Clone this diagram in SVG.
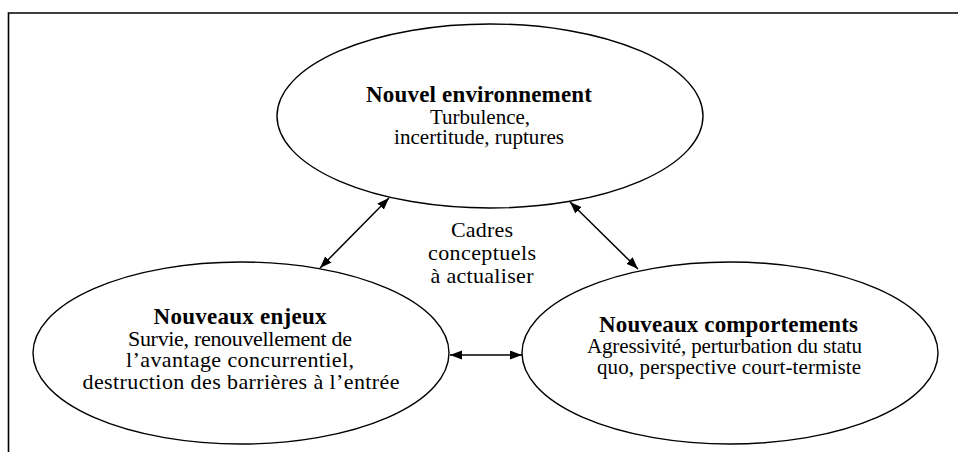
<svg xmlns="http://www.w3.org/2000/svg" width="958" height="452" viewBox="0 0 958 452">
<style>
  .frame{fill:none;stroke:#000;stroke-width:1.6}
  .node ellipse{fill:#fff;stroke:#000;stroke-width:1.4}
  text{font-family:"Liberation Serif","Times New Roman",serif;fill:#000;text-anchor:middle}
  .b{font-weight:bold;font-size:23px}
  .r{font-size:21px}
  .m{font-size:22px}
  .conn line{stroke:#000;stroke-width:1.5;marker-start:url(#ah);marker-end:url(#ah)}
</style>
<defs>
  <marker id="ah" markerUnits="userSpaceOnUse" markerWidth="13" markerHeight="10" refX="12" refY="4.5" orient="auto-start-reverse">
    <path d="M0,0 L12,4.5 L0,9 z" fill="#000"/>
  </marker>
</defs>
<rect width="958" height="452" fill="#fff"/>
<path class="frame" d="M8.5,452 L8.5,13 L958,13"/>
<g id="node-environnement" class="node">
  <ellipse cx="490" cy="116" rx="213" ry="92"/>
  <text class="b" x="479" y="102" textLength="226">Nouvel environnement</text>
  <text class="r" x="480" y="123.5" textLength="100">Turbulence,</text>
  <text class="r" x="479" y="144" textLength="170">incertitude, ruptures</text>
</g>
<g id="node-enjeux" class="node">
  <ellipse cx="241" cy="353" rx="208" ry="91"/>
  <text class="b" x="240" y="324" textLength="173">Nouveaux enjeux</text>
  <text class="m" x="240" y="346" textLength="224">Survie, renouvellement de</text>
  <text class="m" x="240" y="367" textLength="228">l’avantage concurrentiel,</text>
  <text class="m" x="241" y="389" textLength="317">destruction des barrières à l’entrée</text>
</g>
<g id="node-comportements" class="node">
  <ellipse cx="730" cy="353" rx="208" ry="91"/>
  <text class="b" x="728.5" y="332" textLength="259">Nouveaux comportements</text>
  <text class="r" x="724.5" y="353" textLength="275">Agressivité, perturbation du statu</text>
  <text class="r" x="729" y="374" textLength="264">quo, perspective court-termiste</text>
</g>
<g id="label-cadres">
  <text class="m" x="482" y="237" textLength="62">Cadres</text>
  <text class="m" x="482" y="260" textLength="108">conceptuels</text>
  <text class="m" x="482" y="283" textLength="103">à actualiser</text>
</g>
<g id="connectors" class="conn">
  <line x1="320" y1="268" x2="389" y2="198"/>
  <line x1="570" y1="202" x2="638" y2="269"/>
  <line x1="450" y1="355" x2="522" y2="355"/>
</g>
</svg>
